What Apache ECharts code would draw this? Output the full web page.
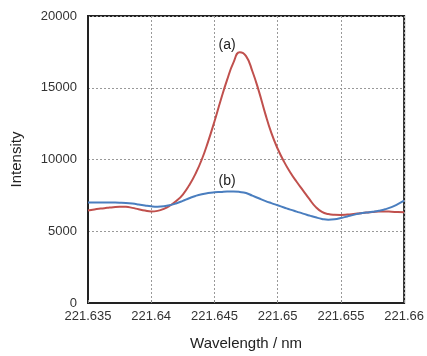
<!DOCTYPE html>
<html>
<head>
<meta charset="utf-8">
<script src="https://cdn.jsdelivr.net/npm/echarts@6/dist/echarts.min.js"></script>
<style>html,body{margin:0;padding:0;background:#fff;}#c{width:427px;height:356px;}</style>
</head>
<body>
<div id="c"></div>
<script>
// Wavelength (nm) and intensity samples
const wavelength = [221.6350,221.6355,221.6360,221.6365,221.6370,221.6375,221.6380,221.6385,221.6390,221.6395,
  221.6400,221.6405,221.6410,221.6415,221.6420,221.6425,221.6430,221.6435,221.6440,221.6445,
  221.6450,221.6455,221.6460,221.6465,221.6470,221.6475,221.6480,221.6485,221.6490,221.6495,
  221.6500,221.6505,221.6510,221.6515,221.6520,221.6525,221.6530,221.6535,221.6540,221.6545,
  221.6550,221.6555,221.6560,221.6565,221.6570,221.6575,221.6580,221.6585,221.6590,221.6595,221.6600];
const intensityA = [6440,6520,6580,6630,6680,6710,6700,6630,6530,6440,
  6380,6420,6560,6800,7120,7560,8200,9000,10000,11250,
  12650,14150,15550,16750,17470,17200,16150,14800,13250,11850,
  10750,9850,9100,8450,7850,7250,6700,6350,6200,6150,
  6140,6160,6200,6250,6300,6340,6380,6380,6360,6340,6320];
const intensityB = [7010,7010,7010,7005,7000,6990,6970,6930,6870,6800,
  6740,6715,6740,6820,6950,7120,7300,7460,7580,7660,
  7710,7740,7770,7770,7740,7660,7480,7300,7120,6960,
  6810,6660,6510,6370,6230,6100,5970,5860,5800,5830,
  5920,6030,6140,6230,6300,6360,6430,6530,6680,6890,7130];
const xTicks = {min: 221.635, max: 221.66, interval: 0.005};
const yTicks = {min: 0, max: 20000, interval: 5000};
const labelA = {text: '(a)', x: 221.646, y: 18000};
const labelB = {text: '(b)', x: 221.646, y: 8520};

const font = '"Liberation Sans", Arial, sans-serif';
const chart = echarts.init(document.getElementById('c'), null, {renderer: 'canvas'});
const zip = (xs, ys) => xs.map((x, i) => [x, ys[i]]);
chart.setOption({
  animation: false,
  grid: {left: 88, right: 21, top: 16, bottom: 49, show: true, borderColor: '#222', borderWidth: 2, backgroundColor: 'transparent'},
  xAxis: {
    type: 'value', min: xTicks.min, max: xTicks.max, interval: xTicks.interval,
    name: 'Wavelength / nm', nameLocation: 'middle', nameGap: 33,
    nameTextStyle: {fontFamily: font, fontSize: 15, color: '#222'},
    axisLine: {show: true, lineStyle: {color: '#222', width: 2}},
    axisTick: {show: true, inside: true, length: 3, lineStyle: {color: '#888'}},
    axisLabel: {fontFamily: font, fontSize: 13, color: '#333', margin: 7,
      formatter: v => String(+v.toFixed(3))},
    splitLine: {show: true, lineStyle: {color: '#999', type: [2, 2], width: 1}}
  },
  yAxis: {
    type: 'value', min: yTicks.min, max: yTicks.max, interval: yTicks.interval,
    name: 'Intensity', nameLocation: 'middle', nameGap: 64, nameRotate: 90,
    nameTextStyle: {fontFamily: font, fontSize: 15, color: '#222'},
    axisLine: {show: true, lineStyle: {color: '#222', width: 2}},
    axisTick: {show: false},
    axisLabel: {fontFamily: font, fontSize: 13, color: '#333', margin: 11,
      formatter: v => String(v)},
    splitLine: {show: true, lineStyle: {color: '#999', type: [2, 2], width: 1}}
  },
  series: [
    {name: '(b)', type: 'line', data: zip(wavelength, intensityB), smooth: true,
     showSymbol: false, lineStyle: {color: '#4a7ebf', width: 2}, z: 3},
    {name: '(a)', type: 'line', data: zip(wavelength, intensityA), smooth: true,
     showSymbol: false, lineStyle: {color: '#c0504d', width: 2}, z: 2}
  ]
});
const pa = chart.convertToPixel({gridIndex: 0}, [labelA.x, labelA.y]);
const pb = chart.convertToPixel({gridIndex: 0}, [labelB.x, labelB.y]);
chart.setOption({
  graphic: [
    {type: 'text', x: pa[0], y: pa[1], style: {text: labelA.text, font: '14px ' + font, fill: '#222', align: 'center', verticalAlign: 'middle'}},
    {type: 'text', x: pb[0], y: pb[1], style: {text: labelB.text, font: '14px ' + font, fill: '#222', align: 'center', verticalAlign: 'middle'}}
  ]
});
</script>
</body>
</html>
